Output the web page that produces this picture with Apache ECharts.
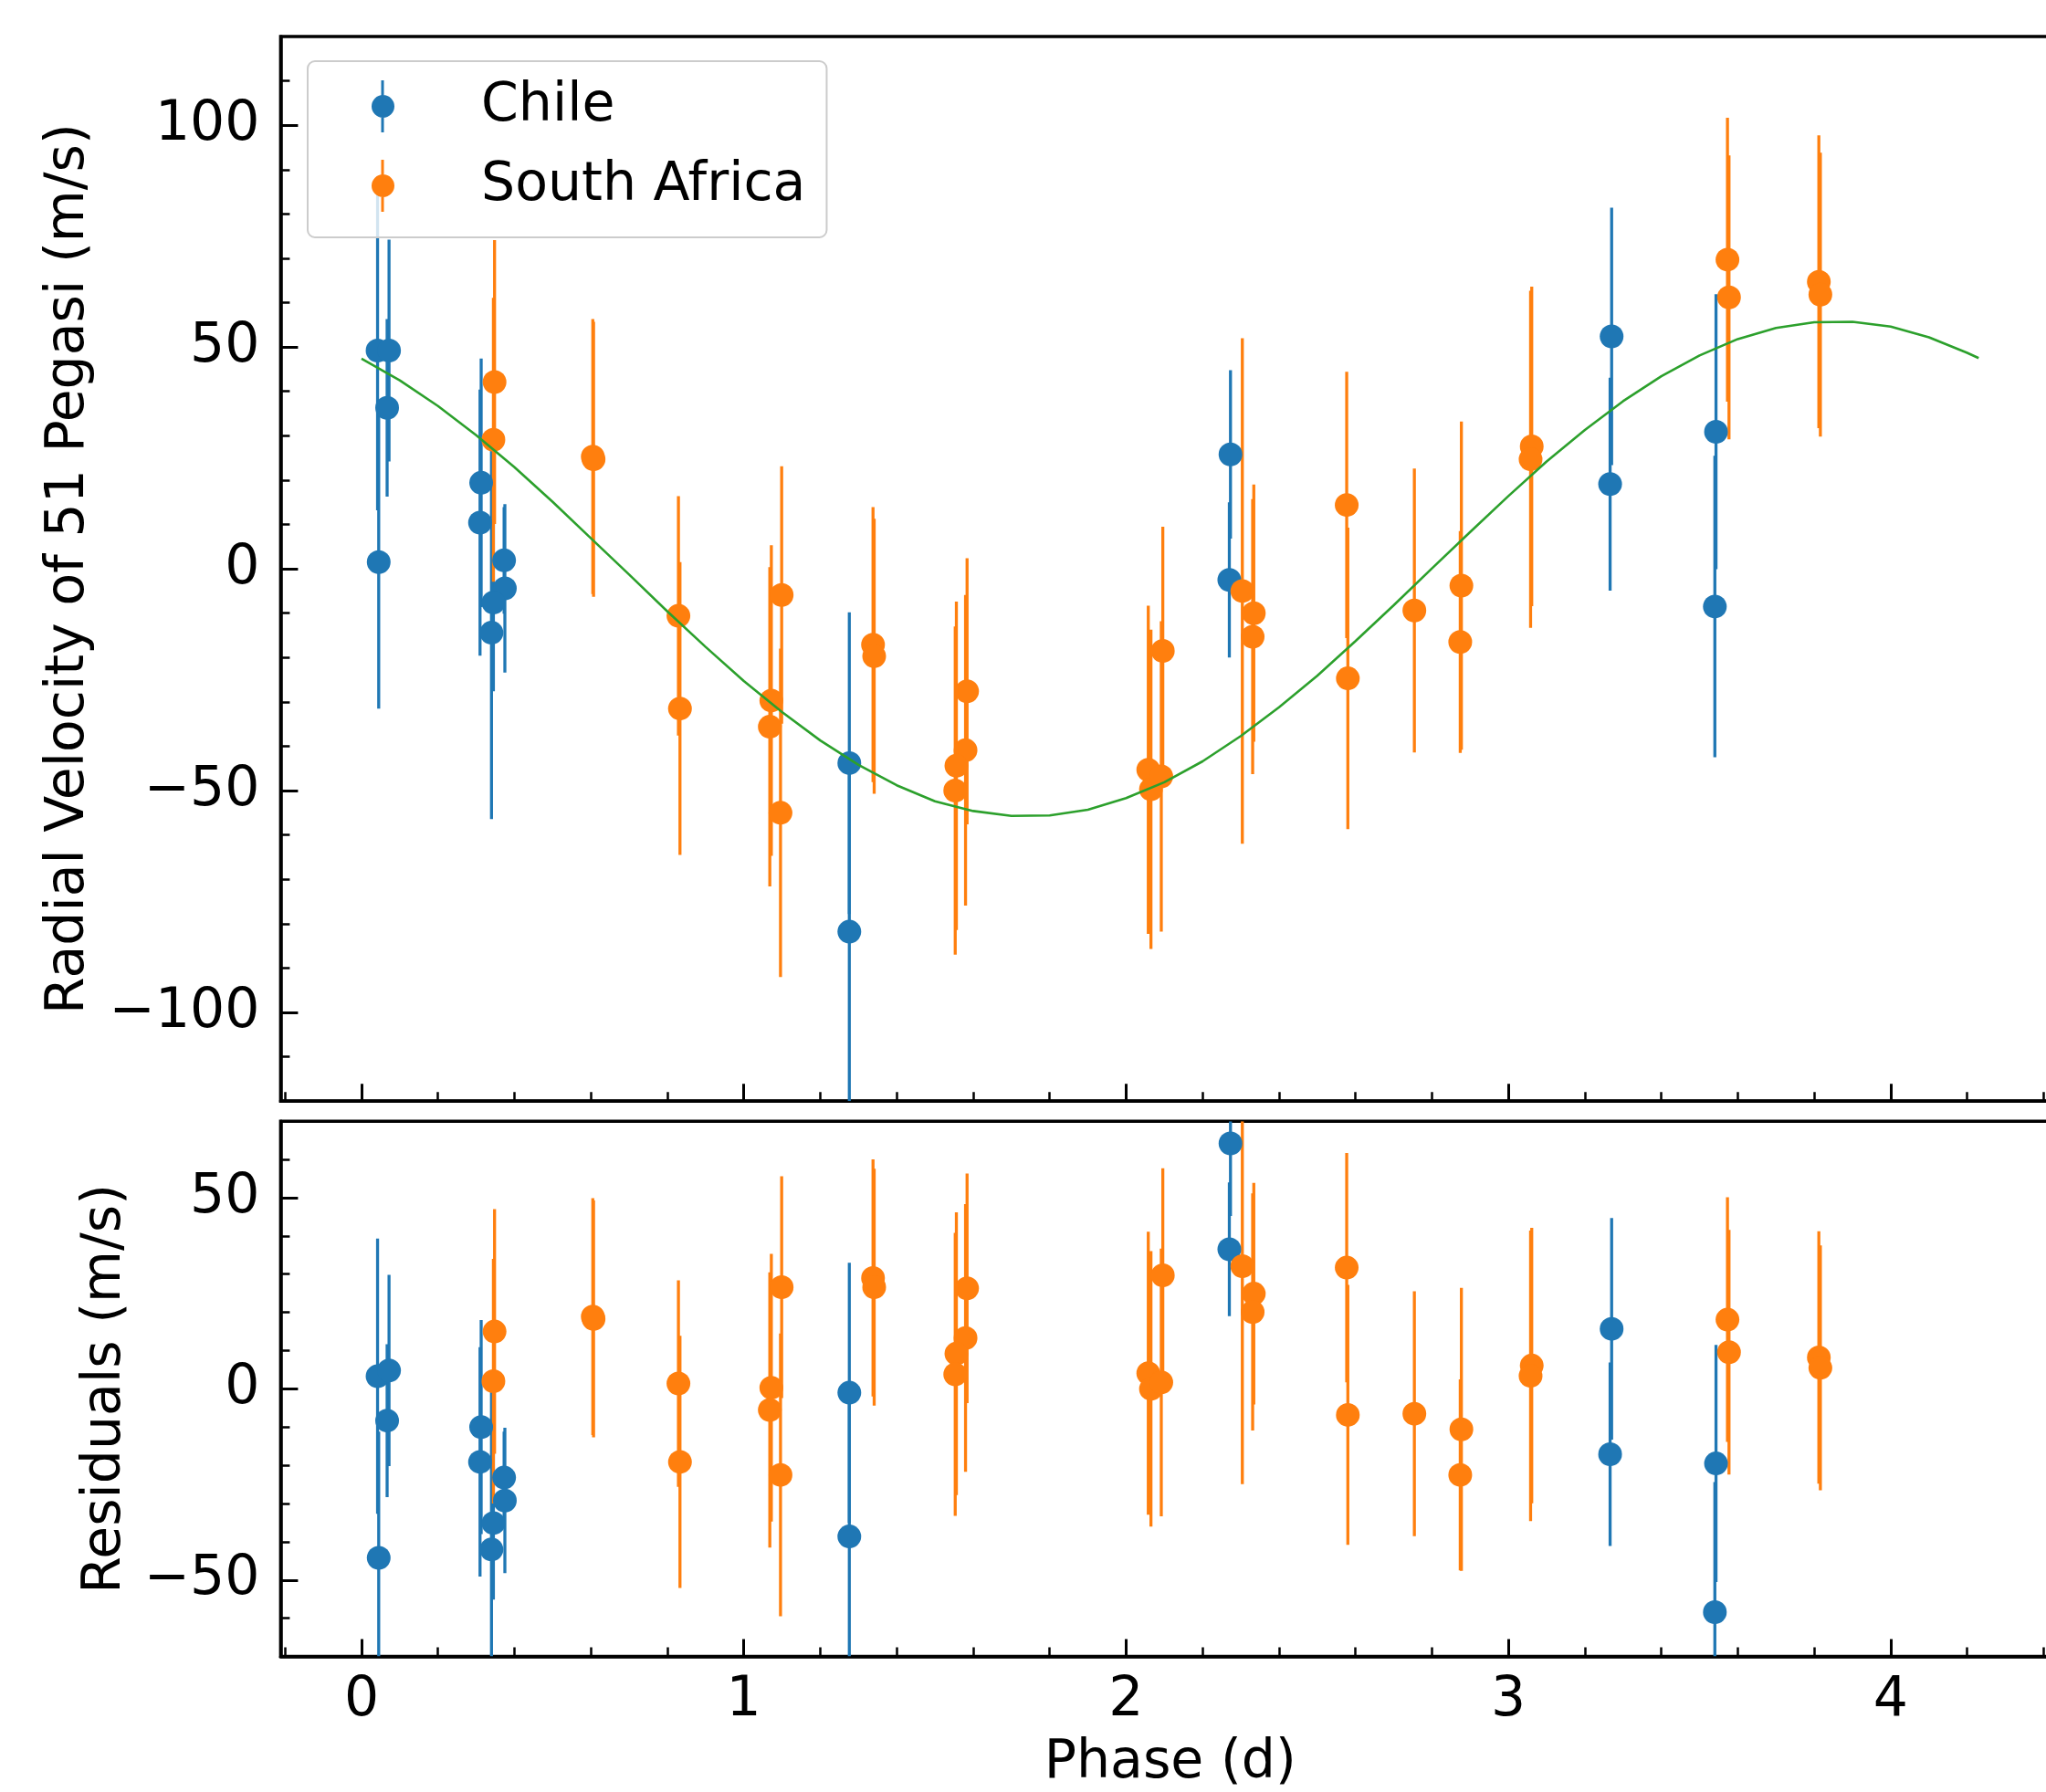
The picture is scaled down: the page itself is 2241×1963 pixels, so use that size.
<!DOCTYPE html>
<html>
<head>
<meta charset="utf-8">
<script src="https://cdn.jsdelivr.net/npm/echarts@6/dist/echarts.min.js"></script>
<style>
html,body{margin:0;padding:0;background:#ffffff;}
#chart{width:2241px;height:1963px;}
</style>
</head>
<body>
<div id="chart"></div>
<script>
// ---------------- data ----------------
// Chile (blue)
const chilePhase = [0.042, 0.072, 0.067, 0.045, 0.313, 0.310, 0.373, 0.375, 0.345, 0.340, 1.276, 1.276, 2.273, 2.270, 3.270, 3.266, 3.543, 3.540];
const chileRV    = [49.2, 49.2, 36.3, 1.5, 19.4, 10.4, 1.9, -4.4, -7.6, -14.4, -43.8, -81.8, 25.8, -2.5, 52.4, 19.1, 30.9, -8.5];
const chileErr   = [36, 25, 20, 33, 28, 30, 12, 19, 20, 42, 34, 40, 19, 17.5, 29, 24, 31, 34];
const chileResid = [3.3, 4.8, -8.3, -44.2, -10.0, -19.1, -23.2, -29.2, -35.1, -42.0, -1.0, -38.6, 64.2, 36.5, 15.7, -17.1, -19.5, -58.4];

// South Africa (orange)
const saPhase = [0.348, 0.345, 0.605, 0.607, 0.829, 0.833, 1.072, 1.068, 1.099, 1.096, 1.338, 1.341, 1.584, 1.580, 1.556, 1.553, 2.058, 2.065, 2.096, 2.092, 2.304, 2.334, 2.331, 2.577, 2.580, 2.754, 2.877, 2.874, 3.061, 3.058, 3.573, 3.577, 3.812, 3.816];
const saRV    = [42.1, 29.1, 25.3, 24.7, -10.6, -31.5, -29.7, -35.6, -5.9, -55.0, -17.1, -19.7, -27.6, -40.9, -44.4, -50.0, -45.3, -49.7, -18.5, -46.8, -5.0, -10.0, -15.3, 14.4, -24.7, -9.4, -3.8, -16.5, 27.6, 24.7, 69.7, 61.2, 64.7, 61.8];
const saErr   = [32, 32, 31, 31, 27, 33, 35, 36, 29, 37, 31, 31, 30, 35, 37, 37, 37, 36, 28, 35, 57, 29, 31, 30, 34, 32, 37, 25, 36, 38, 32, 32, 33, 32];
const saResid = [15.0, 2.0, 18.9, 18.3, 1.4, -19.1, 0.3, -5.5, 26.6, -22.5, 29.0, 26.6, 26.3, 13.3, 9.2, 3.8, 4.1, 0.0, 29.7, 1.7, 32.1, 24.9, 20.1, 31.7, -6.8, -6.5, -10.6, -22.5, 6.1, 3.4, 18.1, 9.6, 8.2, 5.5];

// fitted model curve (green), every 0.1 d
const modelPhase = [0, 0.1, 0.2, 0.3, 0.4, 0.5, 0.6, 0.7, 0.8, 0.9, 1.0, 1.1, 1.2, 1.3, 1.4, 1.5, 1.6, 1.7, 1.8, 1.9, 2.0, 2.1, 2.2, 2.3, 2.4, 2.5, 2.6, 2.7, 2.8, 2.9, 3.0, 3.1, 3.2, 3.3, 3.4, 3.5, 3.6, 3.7, 3.8, 3.9, 4.0, 4.1, 4.2, 4.23];
const modelRV    = [47.4, 42.5, 36.7, 30.1, 22.9, 15.1, 6.9, -1.3, -9.6, -17.6, -25.3, -32.3, -38.7, -44.2, -48.8, -52.4, -54.6, -55.7, -55.6, -54.3, -51.7, -48.1, -43.4, -37.7, -31.2, -24.1, -16.3, -8.2, 0.1, 8.3, 16.4, 24.2, 31.3, 37.8, 43.4, 48.1, 51.8, 54.3, 55.6, 55.7, 54.6, 52.2, 48.7, 47.5];

// ticks
const xTicks     = [0, 1, 2, 3, 4];
const xMinor     = [-0.2, 0.2, 0.4, 0.6, 0.8, 1.2, 1.4, 1.6, 1.8, 2.2, 2.4, 2.6, 2.8, 3.2, 3.4, 3.6, 3.8, 4.2, 4.4];
const rvTicks    = [-100, -50, 0, 50, 100];
const rvMinor    = [-110, -90, -80, -70, -60, -40, -30, -20, -10, 10, 20, 30, 40, 60, 70, 80, 90, 110];
const resTicks   = [-50, 0, 50];
const resMinor   = [-60, -40, -30, -20, -10, 10, 20, 30, 40, 60];

// ---------------- styling / layout ----------------
const FONT = 'DejaVu Sans';
const BLUE = '#1f77b4', ORANGE = '#ff7f0e', GREEN = '#2ca02c';
const X_MIN = -0.2115, X_MAX = 4.442;
const RV_MIN = -120, RV_MAX = 120, RES_MIN = -70, RES_MAX = 70;
const FS = 58.5;      // axis titles, legend
const TFS = 60;       // tick labels
const SPINE = 3.5;
const fmt = v => String(v).replace('-', '\u2212');

const topRect = {left: 307.4, top: 40, width: 1948.6, height: 1166.2};
const botRect = {left: 307.4, top: 1228.2, width: 1948.6, height: 586.4};

function gridOf(rect, border) {
  return Object.assign({
    show: border, borderColor: '#000', borderWidth: SPINE, backgroundColor: 'transparent',
    containLabel: false, outerBoundsMode: 'none'
  }, rect);
}

function majorX(gi, labels, name) {
  return {
    type: 'value', gridIndex: gi, min: X_MIN, max: X_MAX, position: 'bottom',
    axisLine: {show: true, onZero: false, lineStyle: {color: '#000', width: SPINE}},
    axisTick: {show: true, inside: true, length: 19, lineStyle: {color: '#000', width: 3}, customValues: xTicks},
    axisLabel: {show: labels, customValues: xTicks, formatter: fmt, margin: 19, color: '#000', fontFamily: FONT, fontSize: TFS},
    splitLine: {show: false},
    name: name || '', nameLocation: 'middle', nameGap: 88,
    nameTextStyle: {color: '#000', fontFamily: FONT, fontSize: FS}
  };
}
function minorX(gi) {
  return {
    type: 'value', gridIndex: gi, min: X_MIN, max: X_MAX, position: 'bottom',
    axisLine: {show: false, onZero: false},
    axisTick: {show: true, inside: true, length: 10, lineStyle: {color: '#000', width: 2.5}, customValues: xMinor},
    axisLabel: {show: false}, splitLine: {show: false}
  };
}
function majorY(gi, min, max, ticks, name, gap) {
  return {
    type: 'value', gridIndex: gi, min: min, max: max, position: 'left',
    axisLine: {show: true, onZero: false, lineStyle: {color: '#000', width: SPINE}},
    axisTick: {show: true, inside: true, length: 19, lineStyle: {color: '#000', width: 3}, customValues: ticks},
    axisLabel: {show: true, customValues: ticks, formatter: fmt, margin: 23, color: '#000', fontFamily: FONT, fontSize: TFS},
    splitLine: {show: false},
    name: name, nameLocation: 'middle', nameGap: gap, nameRotate: 90,
    nameTextStyle: {color: '#000', fontFamily: FONT, fontSize: FS}
  };
}
function minorY(gi, min, max, ticks) {
  return {
    type: 'value', gridIndex: gi, min: min, max: max, position: 'left',
    axisLine: {show: false, onZero: false},
    axisTick: {show: true, inside: true, length: 10, lineStyle: {color: '#000', width: 2.5}, customValues: ticks},
    axisLabel: {show: false}, splitLine: {show: false}
  };
}

function errorBars(name, phase, center, err, color, axisIdx, lo, hi) {
  return {
    type: 'custom', name: name, xAxisIndex: axisIdx, yAxisIndex: axisIdx, silent: true,
    clip: true,
    data: phase.map((p, i) => [p, center[i] - err[i], center[i] + err[i]]),
    encode: {x: 0, y: [1, 2]},
    renderItem: function (params, api) {
      const y1 = Math.max(lo, api.value(1));
      const y2 = Math.min(hi, api.value(2));
      const a = api.coord([api.value(0), y1]);
      const b = api.coord([api.value(0), y2]);
      return {
        type: 'line',
        shape: {x1: a[0], y1: a[1], x2: b[0], y2: b[1]},
        style: {stroke: color, lineWidth: 3.3}
      };
    }
  };
}
function points(name, phase, vals, color, axisIdx) {
  return {
    type: 'scatter', name: name, xAxisIndex: axisIdx, yAxisIndex: axisIdx,
    data: phase.map((p, i) => [p, vals[i]]),
    symbol: 'circle', symbolSize: 26, clip: true,
    itemStyle: {color: color, opacity: 1}
  };
}

const ICON = 'path://M10.5 0H13.5V57H10.5Z M0 28.5A12.5 12.5 0 1 1 25 28.5A12.5 12.5 0 1 1 0 28.5Z';

const option = {
  backgroundColor: '#ffffff',
  animation: false,
  textStyle: {fontFamily: FONT},
  grid: [gridOf(topRect, true), gridOf(topRect, false), gridOf(botRect, true), gridOf(botRect, false)],
  xAxis: [majorX(0, false), minorX(1), majorX(2, true, 'Phase (d)'), minorX(3)],
  yAxis: [
    majorY(0, RV_MIN, RV_MAX, rvTicks, 'Radial Velocity of 51 Pegasi (m/s)', 202),
    minorY(1, RV_MIN, RV_MAX, rvMinor),
    majorY(2, RES_MIN, RES_MAX, resTicks, 'Residuals (m/s)', 162),
    minorY(3, RES_MIN, RES_MAX, resMinor)
  ],
  legend: {
    data: [
      {name: 'Chile', icon: ICON, itemStyle: {color: BLUE}},
      {name: 'South Africa', icon: ICON, itemStyle: {color: ORANGE}}
    ],
    orient: 'vertical', left: 337, top: 67,
    padding: [20, 23, 27, 70], itemGap: 28, itemWidth: 25, itemHeight: 57,
    backgroundColor: 'rgba(255,255,255,0.8)', borderColor: '#cccccc', borderWidth: 2, borderRadius: 8,
    textStyle: {fontFamily: FONT, fontSize: FS, color: '#000', padding: [0, 0, 0, 90]},
    selectedMode: false
  },
  series: [
    {
      type: 'line', name: 'Model', xAxisIndex: 0, yAxisIndex: 0,
      data: modelPhase.map((p, i) => [p, modelRV[i]]),
      smooth: false, showSymbol: false, silent: true,
      lineStyle: {color: GREEN, width: 2.6}
    },
    errorBars('Chile error', chilePhase, chileRV, chileErr, BLUE, 0, RV_MIN, RV_MAX),
    points('Chile', chilePhase, chileRV, BLUE, 0),
    errorBars('South Africa error', saPhase, saRV, saErr, ORANGE, 0, RV_MIN, RV_MAX),
    points('South Africa', saPhase, saRV, ORANGE, 0),
    errorBars('Chile resid error', chilePhase, chileResid, chileErr, BLUE, 2, RES_MIN, RES_MAX),
    points('Chile', chilePhase, chileResid, BLUE, 2),
    errorBars('South Africa resid error', saPhase, saResid, saErr, ORANGE, 2, RES_MIN, RES_MAX),
    points('South Africa', saPhase, saResid, ORANGE, 2)
  ]
};

const chart = echarts.init(document.getElementById('chart'), null, {renderer: 'canvas'});
chart.setOption(option);
</script>
</body>
</html>
